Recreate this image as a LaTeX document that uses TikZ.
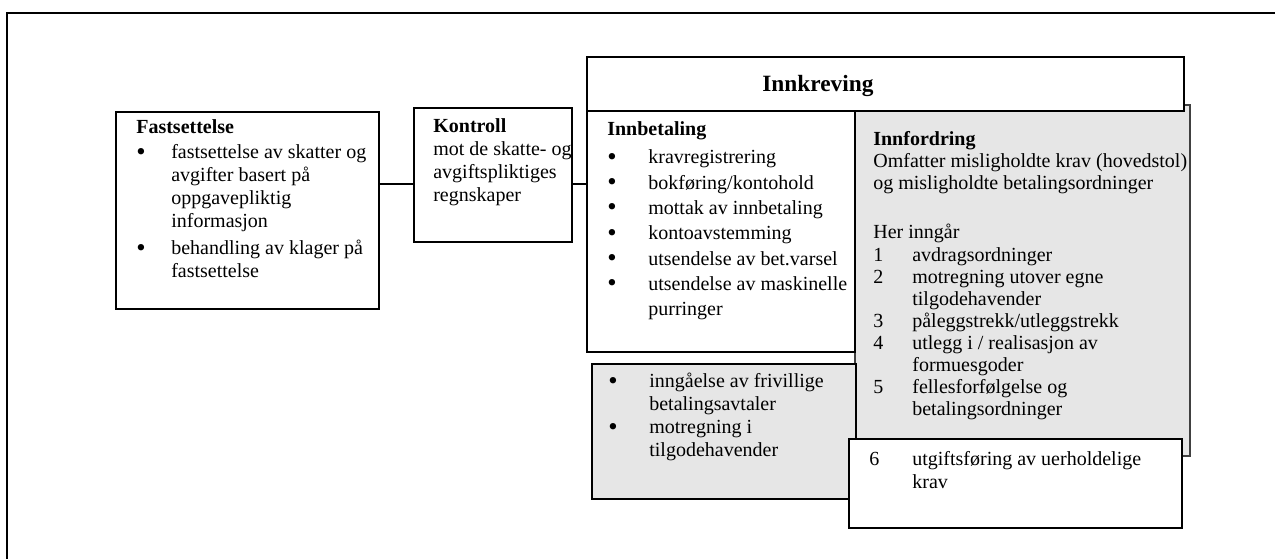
\documentclass[tikz,border=0pt]{standalone}
\usepackage{fontspec}
\setmainfont{Liberation Serif}
\usepackage{tikz}
\definecolor{screen}{HTML}{E6E6E6}
\newdimen\px \px=0.6pt
\newcommand\bul[1]{\makebox[#1\px][l]{\raisebox{-0.9pt}{\fontsize{16}{16}\selectfont\textbullet}}}
\newcommand\cont[1]{\hspace*{#1\px}}
\newcommand\nr[2]{\makebox[#1\px][l]{#2}}
\newcommand\firstln{\rule{0pt}{10pt}}

\begin{document}
\begin{tikzpicture}[x=0.6pt, y=-0.6pt,
  panel/.style={draw, line width=1.2pt, fill=white, inner sep=0pt, outer sep=0pt, anchor=north west},
  shaded/.style={panel, fill=screen},
  txt/.style={anchor=north west, inner sep=0pt, align=left, font=\fontsize{12}{13.8}\selectfont},
  wire/.style={line width=1.2pt}
]
  \useasboundingbox (0,0) rectangle (1275,559);
  \draw[wire] (7,559) -- (7,13) -- (1275,13);

  % boxes
  \node[shaded, draw=black!75, line width=0.7pt, minimum width=335*0.6pt, minimum height=351*0.6pt] (innford) at (855,105) {};
  \node[panel, minimum width=597*0.6pt, minimum height=54*0.6pt] (head) at (587,57) {};
  \node[panel, minimum width=268*0.6pt, minimum height=241*0.6pt] (innbet) at (587,111) {};
  \node[shaded, minimum width=264*0.6pt, minimum height=135*0.6pt] (friv) at (592,364) {};
  \node[panel, minimum width=333*0.6pt, minimum height=89*0.6pt] (box6) at (849,439) {};
  \node[panel, minimum width=263*0.6pt, minimum height=197*0.6pt] (fast) at (116,112) {};
  \node[panel, minimum width=158*0.6pt, minimum height=134*0.6pt] (kontroll) at (414,108) {};

  % texts
  \node[txt, font=\fontsize{14}{16}\selectfont\bfseries] (head-txt) at ([shift={(175,13.7)}]head.north west) {\rule{0pt}{12pt}Innkreving};
  \node[txt] (fast-txt) at ([shift={(20,4.8)}]fast.north west) {\firstln\textbf{Fastsettelse}\\[1.2pt]
    \bul{35}fastsettelse av skatter og\\
    \cont{35}avgifter basert på\\
    \cont{35}oppgavepliktig\\
    \cont{35}informasjon\\[2.4pt]
    \bul{35}behandling av klager på\\
    \cont{35}fastsettelse};
  \node[txt] (kontroll-txt) at ([shift={(19,7.8)}]kontroll.north west) {\firstln\textbf{Kontroll}\\
    mot de skatte- og\\
    avgiftspliktiges\\
    regnskaper};
  \node[txt, font=\fontsize{12}{15.2}\selectfont] (innbet-txt) at ([shift={(20,7.8)}]innbet.north west) {\firstln\textbf{Innbetaling}\\[1.6pt]
    \bul{41}kravregistrering\\
    \bul{41}bokføring/kontohold\\
    \bul{41}mottak av innbetaling\\
    \bul{41}kontoavstemming\\
    \bul{41}utsendelse av bet.varsel\\
    \bul{41}utsendelse av maskinelle\\
    \cont{41}purringer};
  \node[txt, font=\fontsize{12}{13.2}\selectfont] (innford-txt) at ([shift={(18,23.8)}]innford.north west) {\firstln\textbf{Innfordring}\\
    Omfatter misligholdte krav (hovedstol)\\
    og misligholdte betalingsordninger\\[15.9pt]
    Her inngår\\[1pt]
    \nr{39}{1}avdragsordninger\\
    \nr{39}{2}motregning utover egne\\
    \cont{39}tilgodehavender\\
    \nr{39}{3}påleggstrekk/utleggstrekk\\
    \nr{39}{4}utlegg i / realisasjon av\\
    \cont{39}formuesgoder\\
    \nr{39}{5}fellesforfølgelse og\\
    \cont{39}betalingsordninger};
  \node[txt] (friv-txt) at ([shift={(16,6.9)}]friv.north west) {\firstln\bul{41}inngåelse av frivillige\\
    \cont{41}betalingsavtaler\\
    \bul{41}motregning i\\
    \cont{41}tilgodehavender};
  \node[txt] (box6-txt) at ([shift={(20,9.3)}]box6.north west) {\firstln\nr{43}{6}utgiftsføring av uerholdelige\\
    \cont{43}krav};

  % links
  \coordinate (link) at (0,184);
  \draw[wire] (fast.east |- link) -- (kontroll.west |- link);
  \draw[wire] (kontroll.east |- link) -- (innbet.west |- link);
\end{tikzpicture}
\end{document}
